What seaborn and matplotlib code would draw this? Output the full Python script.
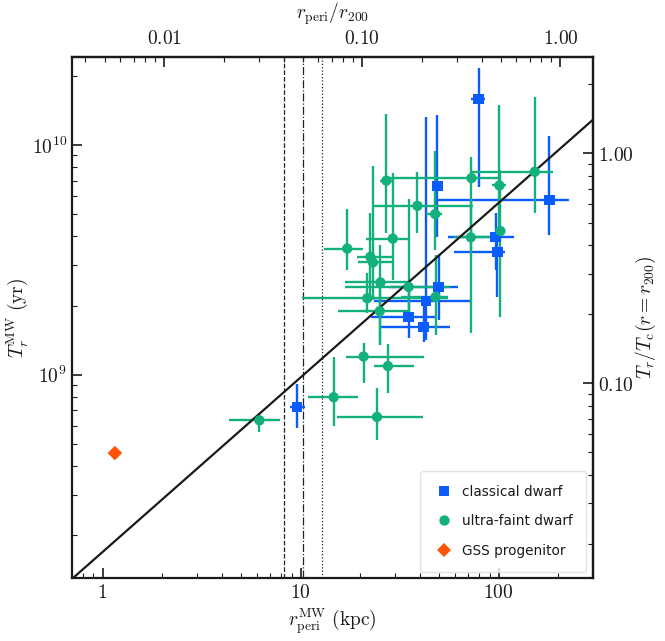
import numpy as np
import pandas as pd
import seaborn as sns
import matplotlib
matplotlib.use("Agg")
import matplotlib.pyplot as plt
from matplotlib.ticker import FuncFormatter, NullFormatter, LogLocator

# classical dwarfs: pericentre (kpc) and radial period (yr) with ranges
cl_r = [79.1, 49.1, 180.4, 96.4, 98.6, 49.7, 42.8, 35.1, 41.8, 9.63]
cl_r_lo = [72.9, 46.4, 47.5, 55.2, 59.2, 27.8, 23.6, 22.8, 24.8, 8.89]
cl_r_hi = [85.8, 52.1, 227.6, 120.2, 108.2, 62.0, 72.9, 48.6, 56.5, 10.48]
cl_T = [1.58e10, 6.62e9, 5.75e9, 3.97e9, 3.42e9, 2.41e9, 2.09e9, 1.78e9, 1.61e9, 7.24e8]
cl_T_lo = [6.55e9, 3.97e9, 4.05e9, 2.85e9, 2.18e9, 1.73e9, 1.42e9, 1.44e9, 1.39e9, 5.86e8]
cl_T_hi = [2.16e10, 1.35e10, 1.09e10, 5.05e9, 4.26e9, 3.32e9, 1.32e10, 2.41e9, 2.18e9, 9.11e8]

# ultra-faint dwarfs
uf_r = [6.20, 14.7, 24.3, 20.8, 27.6, 17.2, 22.5, 23.2, 29.2, 38.9, 47.8,
        27.1, 72.9, 100.9, 102.1, 152.1, 72.3, 48.0, 25.3, 21.7, 25.1, 35.1]
uf_r_lo = [4.34, 10.9, 15.2, 16.9, 23.6, 13.2, 19.2, 19.4, 21.5, 23.0, 43.1,
           25.1, 28.1, 93.0, 97.5, 72.7, 59.8, 32.2, 16.7, 10.2, 15.4, 16.7]
uf_r_hi = [7.85, 19.6, 41.3, 41.8, 37.2, 20.6, 29.1, 29.1, 35.5, 74.0, 51.9,
           28.8, 103.3, 109.5, 106.9, 187.4, 89.9, 55.4, 34.7, 55.4, 34.7, 56.5]
uf_T = [6.33e8, 7.98e8, 6.55e8, 1.20e9, 1.09e9, 3.54e9, 3.26e9, 3.08e9, 3.91e9, 5.43e9, 5.00e9,
        6.99e9, 7.17e9, 6.66e9, 4.22e9, 7.64e9, 3.96e9, 2.18e9, 2.52e9, 2.15e9, 1.89e9, 2.41e9]
uf_T_lo = [5.63e8, 5.98e8, 5.20e8, 9.20e8, 8.32e8, 2.85e9, 2.11e9, 2.11e9, 2.58e9, 4.12e9, 3.49e9,
           4.12e9, 3.49e9, 3.85e9, 1.78e9, 5.07e9, 1.52e9, 1.49e9, 1.35e9, 1.86e9, 1.35e9, 1.73e9]
uf_T_hi = [6.81e8, 1.19e9, 8.75e8, 1.37e9, 1.36e9, 5.26e9, 5.05e9, 8.09e9, 7.54e9, 7.64e9, 9.43e9,
           1.37e10, 8.85e9, 1.49e10, 7.77e9, 1.62e10, 5.75e9, 3.32e9, 3.67e9, 2.77e9, 2.41e9, 5.81e9]

# GSS progenitor
gss_r = [1.155]
gss_T = [4.56e8]

# reference relation and vertical markers
line_r = [0.7, 300.0]
line_T = [1.29e8, 1.29e10]
vlines_r = [8.22, 10.25, 12.9]
vlines_ls = ["--", "-.", ":"]

R200 = 205.0     # kpc
TC200 = 9.18e9   # yr

colors = {"classical dwarf": "#0a5cff",
          "ultra-faint dwarf": "#12b07d",
          "GSS progenitor": "#ff5408"}
markers = {"classical dwarf": "s", "ultra-faint dwarf": "o", "GSS progenitor": "D"}

sns.set_theme(style="ticks")
plt.rcParams["font.family"] = ["DejaVu Sans"]
plt.rcParams["mathtext.fontset"] = "cm"
plt.rcParams["text.color"] = "k"
plt.rcParams["axes.labelcolor"] = "k"

fig = plt.figure(figsize=(6.65, 6.41), dpi=100)
ax = fig.add_axes([0.108, 0.0978, 0.784, 0.8137])

def draw_err(r, lo, hi, T, tlo, thi, c):
    r, lo, hi = np.array(r), np.array(lo), np.array(hi)
    T, tlo, thi = np.array(T), np.array(tlo), np.array(thi)
    ax.errorbar(r, T, xerr=[r - lo, hi - r], yerr=[T - tlo, thi - T],
                fmt="none", ecolor=c, elinewidth=1.7, capsize=0, zorder=2)

draw_err(cl_r, cl_r_lo, cl_r_hi, cl_T, cl_T_lo, cl_T_hi, colors["classical dwarf"])
draw_err(uf_r, uf_r_lo, uf_r_hi, uf_T, uf_T_lo, uf_T_hi, colors["ultra-faint dwarf"])

for x, ls in zip(vlines_r, vlines_ls):
    ax.axvline(x, color="#222222", ls=ls, lw=0.9, zorder=1)

ax.plot(line_r, line_T, color="k", lw=1.6, zorder=3)

df = pd.concat([
    pd.DataFrame({"r": cl_r, "T": cl_T, "kind": "classical dwarf"}),
    pd.DataFrame({"r": uf_r, "T": uf_T, "kind": "ultra-faint dwarf"}),
    pd.DataFrame({"r": gss_r, "T": gss_T, "kind": "GSS progenitor"}),
], ignore_index=True)

sns.scatterplot(data=df, x="r", y="T", hue="kind", style="kind",
                palette=colors, markers=markers, s=55, linewidth=0,
                ax=ax, zorder=4)

ax.set_xscale("log")
ax.set_yscale("log")
ax.set_xlim(0.7, 300)
ax.set_ylim(1.30e8, 2.42e10)

fs = 14
ax.set_xlabel(r"$r_{\rm peri}^{\rm MW}\ (\rm kpc)$", fontsize=fs, labelpad=3)
ax.set_ylabel(r"$T_r^{\rm MW}\ (\rm yr)$", fontsize=fs, labelpad=1)

ax.xaxis.set_major_formatter(FuncFormatter(lambda v, p: f"${v:g}$"))
ax.xaxis.set_minor_formatter(NullFormatter())
ax.yaxis.set_major_formatter(FuncFormatter(lambda v, p: f"$10^{{{int(round(np.log10(v)))}}}$"))
ax.yaxis.set_minor_formatter(NullFormatter())

top = ax.secondary_xaxis("top", functions=(lambda r: r / R200, lambda f: f * R200))
top.xaxis.set_major_locator(LogLocator(base=10))
top.xaxis.set_minor_locator(LogLocator(base=10, subs=np.arange(2, 10)))
top.xaxis.set_major_formatter(FuncFormatter(lambda v, p: f"${v:.2f}$"))
top.xaxis.set_minor_formatter(NullFormatter())
top.set_xlabel(r"$r_{\rm peri}/r_{200}$", fontsize=fs, labelpad=8)

right = ax.secondary_yaxis("right", functions=(lambda t: t / TC200, lambda f: f * TC200))
right.yaxis.set_major_locator(LogLocator(base=10))
right.yaxis.set_minor_locator(LogLocator(base=10, subs=np.arange(2, 10)))
right.yaxis.set_major_formatter(FuncFormatter(lambda v, p: f"${v:.2f}$"))
right.yaxis.set_minor_formatter(NullFormatter())
right.set_ylabel(r"$T_r/T_{\rm c}(r=r_{200})$", fontsize=fs, labelpad=0)

for a in (ax, top, right):
    a.tick_params(which="major", direction="in", length=7, width=1.2, labelsize=fs, colors="k")
    a.tick_params(which="minor", direction="in", length=3.5, width=0.8, colors="k")
ax.tick_params(which="both", top=False, right=False)
top.tick_params(which="major", pad=6)

for s in ax.spines.values():
    s.set_linewidth(1.6)
    s.set_color("k")
for s in top.spines.values():
    s.set_linewidth(1.6)
for s in right.spines.values():
    s.set_linewidth(1.6)

leg = ax.legend(loc="lower right", fontsize=9.8, frameon=True, fancybox=True,
                borderpad=1.0, labelspacing=1.15, handletextpad=0.5,
                borderaxespad=0.5, handlelength=1.6)
leg.get_frame().set_edgecolor("#dddddd")
for t in leg.get_texts():
    t.set_color("k")

fig.savefig("out.png", dpi=100)
